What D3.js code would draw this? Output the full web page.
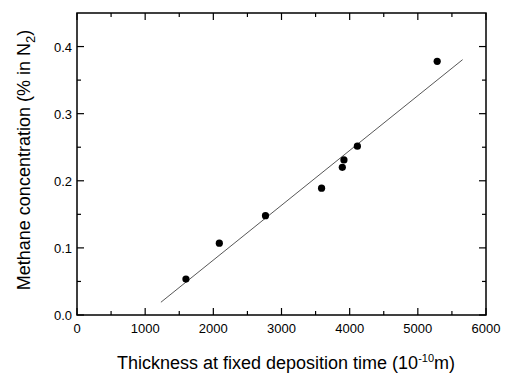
<!DOCTYPE html>
<html>
<head>
<meta charset="utf-8">
<script src="https://cdn.jsdelivr.net/npm/d3@7"></script>
<style>
  body { margin: 0; background: #fff; }
  text { font-family: 'Liberation Sans', Arial, sans-serif; fill: #000; }
</style>
</head>
<body>
<div id="chart"></div>
<script>
// measured points
const thickness = [1598, 2088, 2765, 3588, 3892, 3916, 4113, 5284];
const methane = [0.0536, 0.107, 0.148, 0.189, 0.220, 0.231, 0.2515, 0.378];

// fitted line end points
const fitX = [1231, 5657];
const fitY = [0.019, 0.3805];

const xTicks = [0, 1000, 2000, 3000, 4000, 5000, 6000];
const xMinor = [500, 1500, 2500, 3500, 4500, 5500];
const yTicks = [0.0, 0.1, 0.2, 0.3, 0.4];
const yMinor = [0.05, 0.15, 0.25, 0.35];

const width = 505, height = 376;
const margin = {top: 13, right: 19, bottom: 61, left: 77};
const w = width - margin.left - margin.right;
const h = height - margin.top - margin.bottom;

const svg = d3.select('#chart').append('svg')
  .attr('width', width)
  .attr('height', height);

const g = svg.append('g')
  .attr('transform', 'translate(' + margin.left + ',' + margin.top + ')');

const x = d3.scaleLinear().domain([0, 6000]).range([0, w]);
const y = d3.scaleLinear().domain([0, 0.45]).range([h, 0]);

// frame
g.append('rect')
  .attr('width', w).attr('height', h)
  .attr('fill', 'none').attr('stroke', '#000').attr('stroke-width', 1.5);

// ticks pointing inward, on all four sides
function ticks(vals, len) {
  vals.forEach(function(v) {
    g.append('line').attr('x1', x(v)).attr('x2', x(v)).attr('y1', h).attr('y2', h - len)
      .attr('stroke', '#000').attr('stroke-width', 1.2);
    g.append('line').attr('x1', x(v)).attr('x2', x(v)).attr('y1', 0).attr('y2', len)
      .attr('stroke', '#000').attr('stroke-width', 1.2);
  });
}
function yticks(vals, len) {
  vals.forEach(function(v) {
    g.append('line').attr('y1', y(v)).attr('y2', y(v)).attr('x1', 0).attr('x2', len)
      .attr('stroke', '#000').attr('stroke-width', 1.2);
    g.append('line').attr('y1', y(v)).attr('y2', y(v)).attr('x1', w).attr('x2', w - len)
      .attr('stroke', '#000').attr('stroke-width', 1.2);
  });
}
ticks(xTicks, 7);
ticks(xMinor, 4);
yticks(yTicks, 7);
yticks(yMinor, 4);

// tick labels
g.selectAll('.xl').data(xTicks).enter().append('text')
  .attr('x', function(d) { return x(d); })
  .attr('y', h + 18)
  .attr('text-anchor', 'middle')
  .style('font-size', '13px')
  .text(function(d) { return d; });

g.selectAll('.yl').data(yTicks).enter().append('text')
  .attr('x', -5)
  .attr('y', function(d) { return y(d) + 5; })
  .attr('text-anchor', 'end')
  .style('font-size', '13px')
  .text(function(d) { return d.toFixed(1); });

// fit line
const line = d3.line()
  .x(function(d) { return x(d[0]); })
  .y(function(d) { return y(d[1]); });
g.append('path')
  .attr('d', line(d3.zip(fitX, fitY)))
  .attr('fill', 'none')
  .attr('stroke', '#444')
  .attr('stroke-width', 0.9);

// points
g.selectAll('circle')
  .data(d3.zip(thickness, methane))
  .enter().append('circle')
  .attr('cx', function(d) { return x(d[0]); })
  .attr('cy', function(d) { return y(d[1]); })
  .attr('r', 3.6)
  .attr('fill', '#000');

// axis titles
const xt = svg.append('text')
  .attr('x', 286)
  .attr('y', 369)
  .attr('text-anchor', 'middle')
  .style('font-size', '18px');
xt.append('tspan').text('Thickness at fixed deposition time (10');
xt.append('tspan').attr('dy', -7).style('font-size', '11px').text('-10');
xt.append('tspan').attr('dy', 7).text('m)');

const yt = svg.append('text')
  .attr('transform', 'translate(30,160) rotate(-90)')
  .attr('text-anchor', 'middle')
  .style('font-size', '18px');
yt.append('tspan').text('Methane concentration (% in N');
yt.append('tspan').attr('dy', 5).style('font-size', '13px').text('2');
yt.append('tspan').attr('dy', -5).text(')');
</script>
</body>
</html>
